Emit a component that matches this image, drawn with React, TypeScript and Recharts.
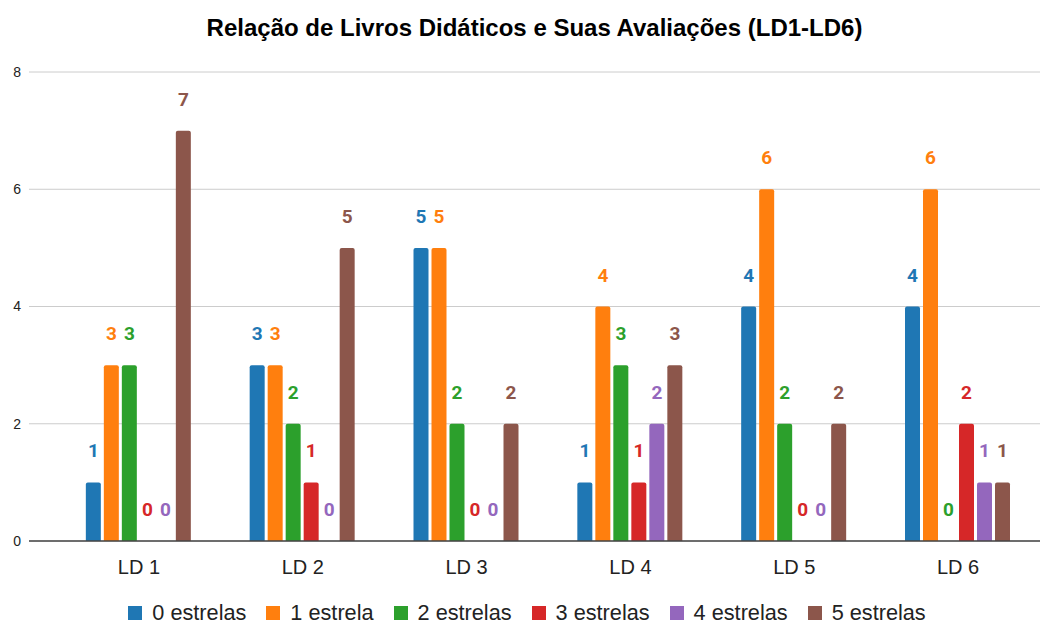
import React from "react";
import { BarChart, Bar, XAxis, YAxis, CartesianGrid, Legend, LabelList } from "recharts";

const categories = ["LD 1", "LD 2", "LD 3", "LD 4", "LD 5", "LD 6"];
const stars0 = [1, 3, 5, 1, 4, 4];
const stars1 = [3, 3, 5, 4, 6, 6];
const stars2 = [3, 2, 2, 3, 2, 0];
const stars3 = [0, 1, 0, 1, 0, 2];
const stars4 = [0, 0, 0, 2, 0, 1];
const stars5 = [7, 5, 2, 3, 2, 1];
const yTicks = [0, 2, 4, 6, 8];

const seriesNames = ["0 estrelas", "1 estrela", "2 estrelas", "3 estrelas", "4 estrelas", "5 estrelas"];
const seriesValues = [stars0, stars1, stars2, stars3, stars4, stars5];
const seriesColors = ["#1f77b4", "#ff7f0e", "#2ca02c", "#d62728", "#9467bd", "#8c564b"];
const title = "Relação de Livros Didáticos e Suas Avaliações (LD1-LD6)";

const data = categories.map((c, i) => {
  const row: Record<string, string | number> = { name: c };
  seriesValues.forEach((vals, s) => {
    row["s" + s] = vals[i];
  });
  return row;
});

const FONT = '"Liberation Sans", Arial, sans-serif';

const renderLegend = () => (
  <div
    style={{
      display: "flex",
      justifyContent: "center",
      alignItems: "center",
      height: 25,
      fontFamily: FONT,
      fontSize: 21.7,
      lineHeight: "25px",
      color: "#222",
      whiteSpace: "nowrap",
    }}
  >
    {seriesNames.map((n, i) => (
      <div key={n} style={{ display: "flex", alignItems: "center", marginRight: i < seriesNames.length - 1 ? 20 : 0 }}>
        <div style={{ width: 14, height: 14, background: seriesColors[i], marginRight: 10 }} />
        <span>{n}</span>
      </div>
    ))}
  </div>
);

export default function App() {
  return (
    <div style={{ position: "absolute", left: 0, top: 0, width: 1054, height: 625, background: "#fff" }}>
      <div
        style={{
          position: "absolute",
          left: 29,
          width: 1011,
          top: 14,
          textAlign: "center",
          fontFamily: FONT,
          fontWeight: "bold",
          fontSize: 24,
          lineHeight: "28px",
          color: "#000",
        }}
      >
        {title}
      </div>
      <BarChart
        width={1054}
        height={625}
        data={data}
        margin={{ top: 72, right: 14, bottom: 0, left: 0 }}
        barCategoryGap="17.6%"
        barGap={3}
      >
        <CartesianGrid vertical={false} stroke="#cccccc" />
        <XAxis
          dataKey="name"
          height={59}
          padding={{ left: 28, right: 0 }}
          tickLine={false}
          tickSize={0}
          tickMargin={19}
          axisLine={{ stroke: "#444", strokeWidth: 1.5 }}
          tick={{ fontFamily: FONT, fontSize: 20, fill: "#222" }}
        />
        <YAxis
          width={29}
          domain={[0, 8]}
          ticks={yTicks}
          tickLine={false}
          axisLine={false}
          tickSize={0}
          tickMargin={8}
          tick={{ fontFamily: FONT, fontSize: 14, fill: "#222" }}
        />
        <Legend verticalAlign="bottom" content={renderLegend} wrapperStyle={{ left: 0, width: 1054 }} />
        {seriesNames.map((n, i) => (
          <Bar
            key={n}
            dataKey={"s" + i}
            name={n}
            fill={seriesColors[i]}
            radius={[2, 2, 0, 0]}
            minPointSize={0.01}
            isAnimationActive={false}
          >
            <LabelList
              dataKey={"s" + i}
              position="top"
              offset={25}
              style={{ fontFamily: "Roboto, sans-serif", fontWeight: "bold", fontSize: 19, fill: seriesColors[i] }}
            />
          </Bar>
        ))}
      </BarChart>
    </div>
  );
}
